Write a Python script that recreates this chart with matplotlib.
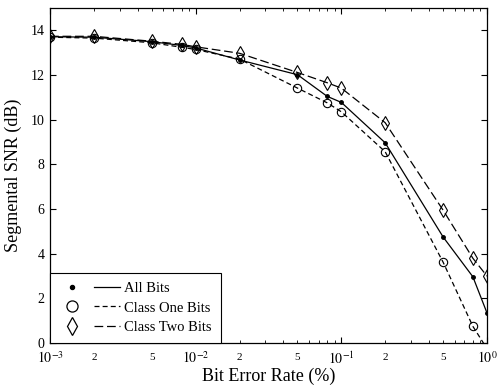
import numpy as np
import matplotlib
matplotlib.use("Agg")
import matplotlib.pyplot as plt
from matplotlib.lines import Line2D
from matplotlib.legend_handler import HandlerTuple
from matplotlib.ticker import FixedLocator, FixedFormatter

plt.rcParams['font.family'] = ['Liberation Serif', 'DejaVu Serif']
plt.rcParams['mathtext.fontset'] = 'stix'

# Bit error rate and segmental SNR values
ber = [1e-3, 2e-3, 5e-3, 8e-3, 1e-2, 2e-2, 5e-2, 8e-2, 1e-1, 2e-1, 5e-1, 8e-1, 1.0]
snr_all = [13.72, 13.70, 13.50, 13.33, 13.22, 12.68, 12.02, 11.05, 10.78, 8.97, 4.75, 2.97, 1.35]
snr_class_one = [13.70, 13.66, 13.45, 13.25, 13.15, 12.72, 11.42, 10.76, 10.36, 8.57, 3.62, 0.75, -0.25]
snr_class_two = [13.74, 13.74, 13.52, 13.38, 13.27, 12.98, 12.12, 11.66, 11.42, 9.87, 5.95, 3.80, 3.00]

x_major = [1e-3, 1e-2, 1e-1, 1.0]
x_major_labels = [r'$10^{-3}$', r'$10^{-2}$', r'$10^{-1}$', r'$10^{0}$']
x_minor = [m * d for d in [1e-3, 1e-2, 1e-1] for m in range(2, 10)]
x_minor_labels = ['2' if m == 2 else '5' if m == 5 else '' for d in [1e-3, 1e-2, 1e-1] for m in range(2, 10)]

fig = plt.figure(figsize=(5.0, 3.89), dpi=100)
ax = fig.add_axes([0.10, 0.118, 0.874, 0.861])

ax.plot(ber, snr_all, color='black', lw=0.9, linestyle='-',
        marker='o', markersize=2.5, markerfacecolor='black')
ax.plot(ber, snr_class_one, color='black', lw=0.9, linestyle=(0, (4, 2.5)),
        marker='o', markersize=6, markerfacecolor='none', markeredgewidth=0.8)
ax.plot(ber, snr_class_two, color='black', lw=0.9, linestyle=(0, (7, 3)),
        marker='d', markersize=7, markerfacecolor='none', markeredgewidth=0.8)

ax.set_xscale('log')
ax.set_xlim(1e-3, 1.0)
ax.set_ylim(0, 15)
ax.set_yticks([0, 2, 4, 6, 8, 10, 12, 14])

ax.xaxis.set_major_locator(FixedLocator(x_major))
ax.xaxis.set_major_formatter(FixedFormatter(x_major_labels))
ax.xaxis.set_minor_locator(FixedLocator(x_minor))
ax.xaxis.set_minor_formatter(FixedFormatter(x_minor_labels))

ax.tick_params(which='both', direction='in', top=True, right=True)
ax.tick_params(which='major', length=4, labelsize=10, pad=5)
ax.tick_params(which='minor', length=2, labelsize=8, pad=7)
ax.tick_params(axis='y', labelsize=10, pad=4)

for s in ax.spines.values():
    s.set_linewidth(0.9)

ax.set_xlabel('Bit Error Rate (%)', fontsize=13, labelpad=1)
ax.set_ylabel('Segmental SNR (dB)', fontsize=13, labelpad=6)

# legend: marker and line sample side by side
def entry(marker, ms, fill, ls):
    m = Line2D([], [], linestyle='none', marker=marker, markersize=ms,
               markerfacecolor=fill, markeredgecolor='black', markeredgewidth=0.9)
    l = Line2D([], [], color='black', lw=0.9, linestyle=ls)
    return (m, l)

handles = [entry('o', 3, 'black', '-'),
           entry('o', 8, 'none', (0, (4, 2.5))),
           entry('d', 9, 'none', (0, (7, 3)))]
labels = ['All Bits', 'Class One Bits', 'Class Two Bits']
leg = ax.legend(handles, labels, loc='lower left', borderaxespad=0,
                handler_map={tuple: HandlerTuple(ndivide=None, pad=0.6)},
                handlelength=4.2, fontsize=10.5, fancybox=False,
                edgecolor='black', framealpha=1, labelspacing=0.45,
                borderpad=0.6, handletextpad=0.3)
leg.get_frame().set_linewidth(0.8)

fig.savefig('out.png', dpi=100)
